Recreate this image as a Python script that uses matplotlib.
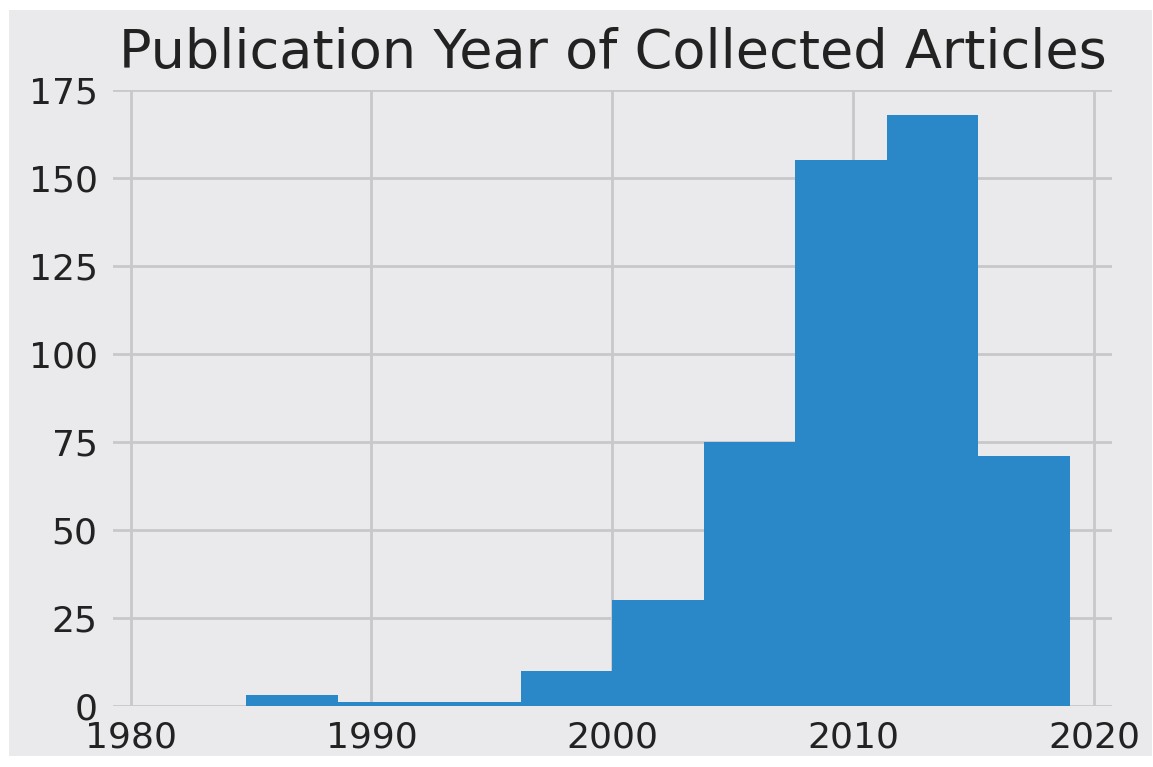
import matplotlib
matplotlib.use("Agg")
import matplotlib.pyplot as plt
from matplotlib.patches import Rectangle

# === data ===
bin_edges = [1981.0, 1984.8, 1988.6, 1992.4, 1996.2, 2000.0,
             2003.8, 2007.6, 2011.4, 2015.2, 2019.0]
counts = [0, 3, 1, 1, 10, 30, 75, 155, 168, 71]
x_ticks = [1980, 1990, 2000, 2010, 2020]
y_ticks = [0, 25, 50, 75, 100, 125, 150, 175]

BG = "#eaeaec"
GRID = "#c8c8cb"
BAR = "#2b88c8"
TEXT = "#222222"

fig = plt.figure(figsize=(11.53, 7.67), dpi=100, facecolor="white")

# grey panel inside the white screenshot border
fig.add_artist(Rectangle((9 / 1153, 11 / 767), 1143 / 1153, 746 / 767,
                         transform=fig.transFigure, facecolor=BG,
                         edgecolor="none", zorder=0))

ax = fig.add_axes([113 / 1153, 1 - 705.7 / 767, 999 / 1153, 615.7 / 767])
ax.set_facecolor(BG)

ax.hist(bin_edges[:-1], bins=bin_edges, weights=counts, color=BAR, zorder=3)

ax.set_xlim(1979.27, 2020.75)
ax.set_ylim(0, 175)
ax.set_xticks(x_ticks)
ax.set_yticks(y_ticks)

ax.grid(True, color=GRID, linewidth=2.0, zorder=0)
ax.set_axisbelow(True)
for s in ax.spines.values():
    s.set_visible(False)

ax.tick_params(axis="both", length=0, pad=11, labelsize=26, labelcolor=TEXT)
ax.set_title("Publication Year of Collected Articles", fontsize=39,
             color=TEXT, pad=16)

plt.savefig("out.png", dpi=100, facecolor=fig.get_facecolor())
plt.close()
